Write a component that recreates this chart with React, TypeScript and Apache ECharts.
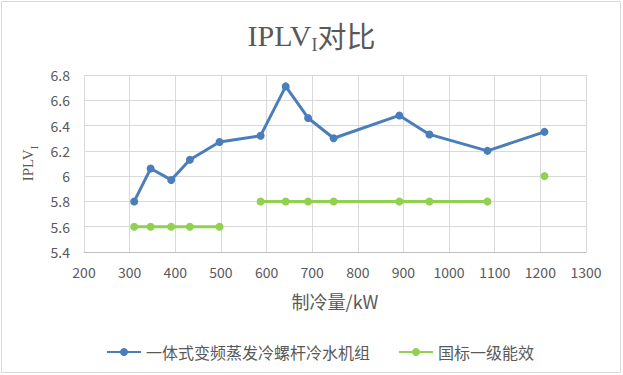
import React, { useEffect, useRef } from "react";
import * as echarts from "echarts";

const capacity = [310, 346, 391, 432, 497, 587, 642, 691, 747, 891, 957, 1084, 1209];
const unitIPLV = [5.80, 6.06, 5.97, 6.13, 6.27, 6.32, 6.71, 6.46, 6.30, 6.48, 6.33, 6.20, 6.35];
const standardIPLV = [5.6, 5.6, 5.6, 5.6, 5.6, 5.8, 5.8, 5.8, 5.8, 5.8, 5.8, 5.8, 6.0];
const standardBreakAfter = [4, 11];
const seriesNames = ["一体式变频蒸发冷螺杆冷水机组", "国标一级能效"];
const xTicks = { min: 200, max: 1300, interval: 100 };
const yTicks = { min: 5.4, max: 6.8, interval: 0.2 };

const SERIF = "'Liberation Serif', 'Noto Sans CJK SC', serif";
const SANS = "'Noto Sans CJK SC', 'Noto Sans', sans-serif";
const TXT = "#595959";

export default function App() {
  const ref = useRef<HTMLDivElement>(null);
  useEffect(() => {
    if (!ref.current) return;
    const chart = echarts.init(ref.current, null, { renderer: "svg" });
    const blueData = capacity.map((x, i) => [x, unitIPLV[i]]);
    const greenData: any[] = [];
    capacity.forEach((x, i) => {
      greenData.push([x, standardIPLV[i]]);
      if (standardBreakAfter.includes(i)) greenData.push([x, "-"]);
    });
    chart.setOption({
      animation: false,
      backgroundColor: "#fff",
      graphic: [
        {
          type: "rect",
          shape: { x: 1.5, y: 1.5, width: 619, height: 371 },
          style: { fill: "none", stroke: "#d9d9d9", lineWidth: 1 },
          silent: true,
        },
      ],
      title: {
        text: "{a|IPLV}{s|I}{c|对比}",
        left: "center",
        top: 20,
        padding: 0,
        textStyle: {
          fontWeight: "normal",
          rich: {
            a: { fontFamily: SERIF, fontSize: 30, fontWeight: "normal", color: TXT, lineHeight: 30, verticalAlign: "top" },
            s: { fontFamily: SERIF, fontSize: 18, fontWeight: "normal", color: TXT, lineHeight: 34, verticalAlign: "bottom" },
            c: { fontFamily: SANS, fontSize: 29, fontWeight: "normal", color: TXT, lineHeight: 30, verticalAlign: "top" },
          },
        },
      },
      grid: { left: 84, right: 37, top: 75, bottom: 123, containLabel: false },
      xAxis: {
        type: "value",
        min: xTicks.min,
        max: xTicks.max,
        interval: xTicks.interval,
        name: "制冷量/kW",
        nameLocation: "middle",
        nameGap: 40,
        nameTextStyle: { fontFamily: SANS, fontSize: 18, color: TXT },
        axisLine: { show: true, lineStyle: { color: "#bfbfbf", width: 1 } },
        axisTick: { show: false },
        axisLabel: {
          fontFamily: SANS,
          fontSize: 14,
          color: TXT,
          margin: 13,
          formatter: (v: number) => String(v),
        },
        splitLine: { show: true, lineStyle: { color: "#d9d9d9", width: 1 } },
      },
      yAxis: {
        type: "value",
        min: yTicks.min,
        max: yTicks.max,
        interval: yTicks.interval,
        name: "{a|IPLV}{s|I}",
        nameLocation: "middle",
        nameGap: 44,
        nameTextStyle: {
          rich: {
            a: { fontFamily: SERIF, fontSize: 15, color: TXT, lineHeight: 15, verticalAlign: "top" },
            s: { fontFamily: SERIF, fontSize: 11, color: TXT, lineHeight: 19, verticalAlign: "bottom" },
          },
        },
        axisLine: { show: false },
        axisTick: { show: false },
        axisLabel: { fontFamily: SANS, fontSize: 14, color: TXT, margin: 14 },
        splitLine: { show: true, lineStyle: { color: "#d9d9d9", width: 1 } },
      },
      legend: {
        left: 101,
        top: 339,
        itemWidth: 34,
        itemHeight: 10,
        itemGap: 28,
        textStyle: { fontFamily: SANS, fontSize: 16, color: TXT },
        data: seriesNames,
      },
      series: [
        {
          name: seriesNames[0],
          type: "line",
          data: blueData,
          symbol: "circle",
          symbolSize: 8,
          itemStyle: { color: "#4A7EBB" },
          lineStyle: { color: "#4A7EBB", width: 3 },
        },
        {
          name: seriesNames[1],
          type: "line",
          data: greenData,
          connectNulls: false,
          symbol: "circle",
          symbolSize: 8,
          itemStyle: { color: "#92D050" },
          lineStyle: { color: "#92D050", width: 3 },
        },
      ],
    });
    return () => chart.dispose();
  }, []);
  return (
    <div
      ref={ref}
      style={{ position: "fixed", left: 0, top: 0, width: 623, height: 375 }}
    />
  );
}
